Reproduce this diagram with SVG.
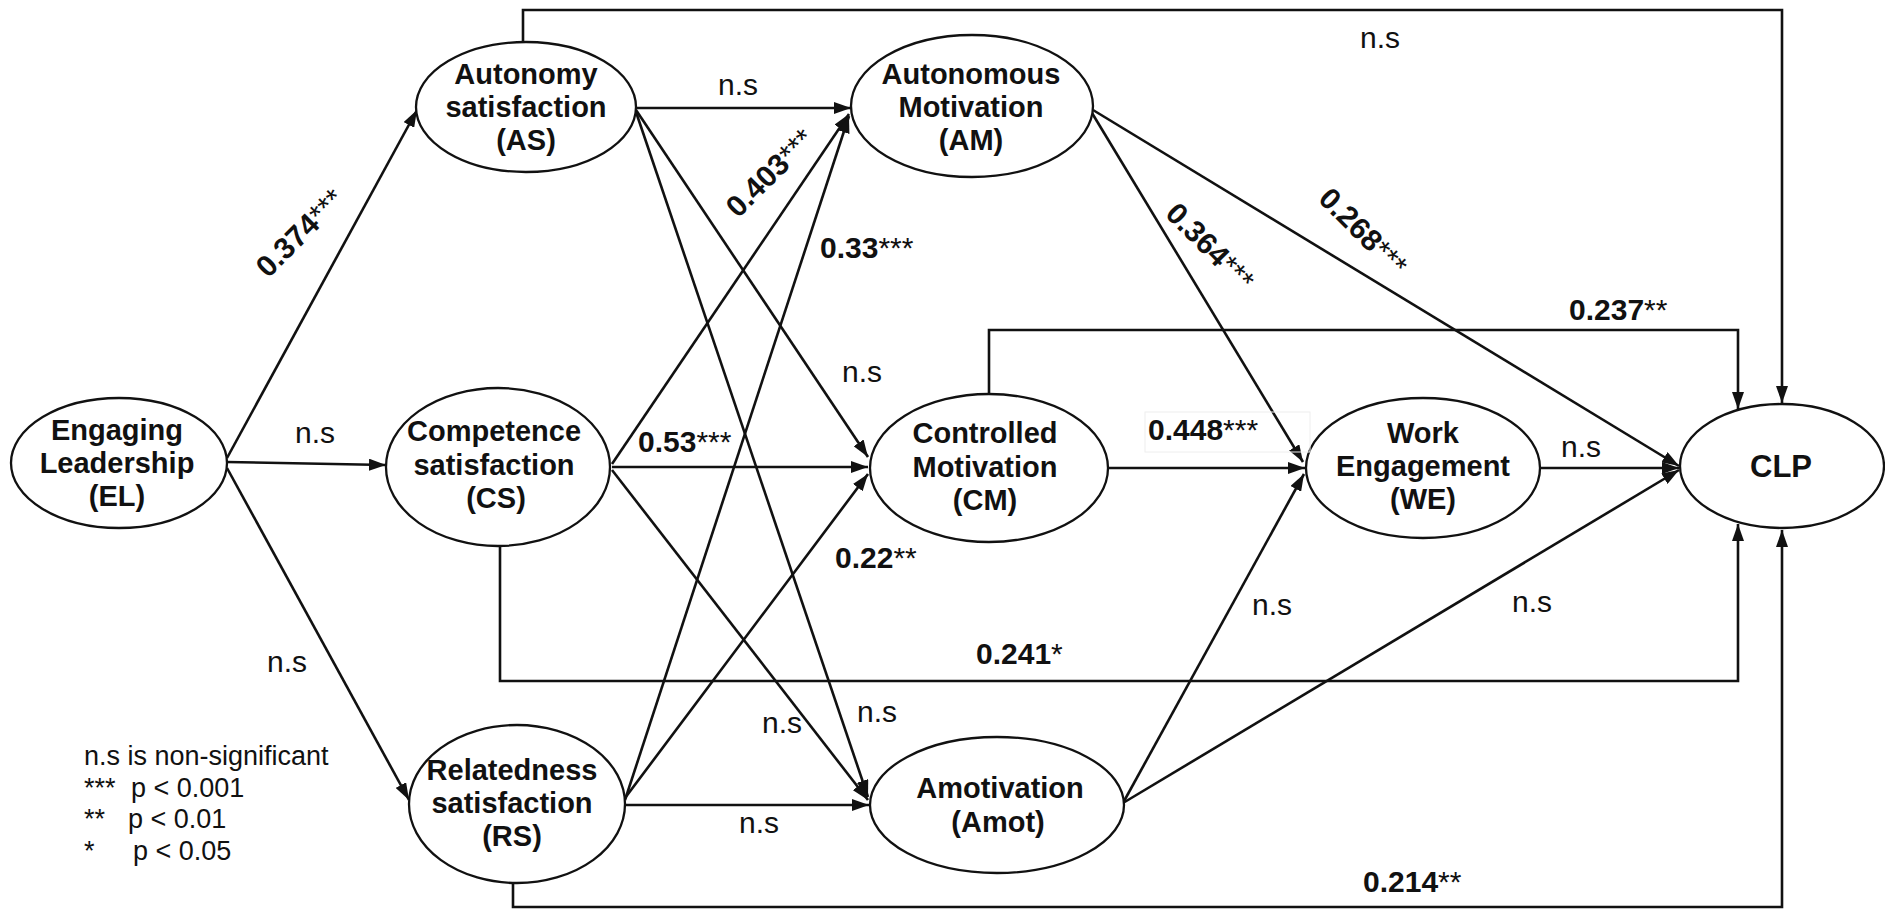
<svg xmlns="http://www.w3.org/2000/svg" width="1885" height="909" viewBox="0 0 1885 909">
  <style>
    .node { fill: #ffffff; stroke: #111111; stroke-width: 2.3; }
    .nt { font-family: "Liberation Sans", Arial, sans-serif; font-weight: bold; font-size: 29px; fill: #111111; text-anchor: middle; }
    .edge { fill: none; stroke: #111111; stroke-width: 2.6; marker-end: url(#arrow); }
    .wire { fill: none; stroke: #111111; stroke-width: 2.6; }
    .ns { font-family: "Liberation Sans", Arial, sans-serif; font-size: 30px; fill: #111111; text-anchor: middle; }
    .val { font-family: "Liberation Sans", Arial, sans-serif; font-size: 30px; font-weight: bold; fill: #111111; }
    .star { font-weight: normal; }
    .legend { font-family: "Liberation Sans", Arial, sans-serif; font-size: 27px; fill: #111111; }
  </style>
  <defs>
    <marker id="arrow" markerUnits="userSpaceOnUse" markerWidth="18" markerHeight="12" refX="17" refY="6" orient="auto">
      <path d="M0,0 L17,6 L0,12 z" fill="#111111"/>
    </marker>
  </defs>

  <rect x="0" y="0" width="1885" height="909" fill="#ffffff"/>

  <!-- paths between constructs -->
  <g id="connectors">
    <path class="edge" d="M523,42 V10 H1782 V403"/>
    <path class="edge" d="M636,108 H851"/>
    <path class="edge" d="M636,110 L868,457"/>
    <path class="edge" d="M636,112 L868,797"/>
    <path class="edge" d="M612,464 L849,114"/>
    <path class="edge" d="M625,800 L849,116"/>
    <path class="edge" d="M612,467 H868"/>
    <path class="edge" d="M612,470 L868,800"/>
    <path class="edge" d="M625,798 L868,474"/>
    <path class="edge" d="M625,805 H869"/>
    <path class="edge" d="M227,458 L417,110"/>
    <path class="edge" d="M227,462 L386,465"/>
    <path class="edge" d="M227,468 L409,800"/>
    <path class="edge" d="M500,546 V681 H1738 V524"/>
    <path class="edge" d="M513,883 V907 H1782 V530"/>
    <path class="edge" d="M989,394 V330 H1738 V409"/>
    <path class="edge" d="M1108,468 H1305"/>
    <path class="edge" d="M1092,113 L1303,462"/>
    <path class="edge" d="M1093,110 L1679,466"/>
    <path class="edge" d="M1540,468 H1679"/>
    <path class="edge" d="M1123,803 L1304,474"/>
    <path class="edge" d="M1123,803 L1679,470"/>
  </g>

  <!-- constructs -->
  <g id="EL">
    <ellipse class="node" cx="119" cy="463" rx="108" ry="65"/>
    <text class="nt" x="117" y="440">Engaging</text>
    <text class="nt" x="117" y="473">Leadership</text>
    <text class="nt" x="117" y="506">(EL)</text>
  </g>
  <g id="AS">
    <ellipse class="node" cx="526" cy="107" rx="110" ry="65"/>
    <text class="nt" x="526" y="84">Autonomy</text>
    <text class="nt" x="526" y="117">satisfaction</text>
    <text class="nt" x="526" y="150">(AS)</text>
  </g>
  <g id="CS">
    <ellipse class="node" cx="498" cy="467" rx="112" ry="79"/>
    <text class="nt" x="494" y="441">Competence</text>
    <text class="nt" x="494" y="475">satisfaction</text>
    <text class="nt" x="496" y="508">(CS)</text>
  </g>
  <g id="RS">
    <ellipse class="node" cx="517" cy="804" rx="108" ry="79"/>
    <text class="nt" x="512" y="780">Relatedness</text>
    <text class="nt" x="512" y="813">satisfaction</text>
    <text class="nt" x="512" y="846">(RS)</text>
  </g>
  <g id="AM">
    <ellipse class="node" cx="972" cy="106" rx="121" ry="71"/>
    <text class="nt" x="971" y="84">Autonomous</text>
    <text class="nt" x="971" y="117">Motivation</text>
    <text class="nt" x="971" y="150">(AM)</text>
  </g>
  <g id="CM">
    <ellipse class="node" cx="989" cy="468" rx="119" ry="74"/>
    <text class="nt" x="985" y="443">Controlled</text>
    <text class="nt" x="985" y="477">Motivation</text>
    <text class="nt" x="985" y="510">(CM)</text>
  </g>
  <g id="Amot">
    <ellipse class="node" cx="997" cy="805" rx="127" ry="68"/>
    <text class="nt" x="1000" y="798">Amotivation</text>
    <text class="nt" x="998" y="832">(Amot)</text>
  </g>
  <g id="WE">
    <ellipse class="node" cx="1423" cy="468" rx="117" ry="70"/>
    <text class="nt" x="1423" y="443">Work</text>
    <text class="nt" x="1423" y="476">Engagement</text>
    <text class="nt" x="1423" y="509">(WE)</text>
  </g>
  <g id="CLP">
    <ellipse class="node" cx="1782" cy="466" rx="102" ry="62"/>
    <text class="nt" x="1781" y="477" style="font-size:31px">CLP</text>
  </g>

  <!-- path coefficients -->
  <g id="labels">
    <text class="ns" x="1380" y="48">n.s</text>
    <text class="ns" x="738" y="95">n.s</text>
    <text class="val" x="770" y="183" text-anchor="middle" transform="rotate(-45 770 173)">0.403<tspan class="star">***</tspan></text>
    <text class="val" x="820" y="258">0.33<tspan class="star">***</tspan></text>
    <text class="ns" x="862" y="382">n.s</text>
    <text class="val" x="638" y="452">0.53<tspan class="star">***</tspan></text>
    <text class="val" x="835" y="568">0.22<tspan class="star">**</tspan></text>
    <text class="val" x="976" y="664">0.241<tspan class="star">*</tspan></text>
    <text class="ns" x="782" y="733">n.s</text>
    <text class="ns" x="877" y="722">n.s</text>
    <text class="ns" x="759" y="833">n.s</text>
    <text class="val" x="300" y="243" text-anchor="middle" transform="rotate(-45 300 233)">0.374<tspan class="star">***</tspan></text>
    <text class="ns" x="315" y="443">n.s</text>
    <text class="ns" x="287" y="672">n.s</text>
    <rect x="1145" y="412" width="165" height="40" fill="#ffffff" fill-opacity="0" stroke="#eeeeee" stroke-width="1"/>
    <text class="val" x="1148" y="440">0.448<tspan class="star">***</tspan></text>
    <text class="val" x="1210" y="257" text-anchor="middle" transform="rotate(45 1210 247)">0.364<tspan class="star">***</tspan></text>
    <text class="val" x="1363" y="242" text-anchor="middle" transform="rotate(45 1363 232)">0.268<tspan class="star">***</tspan></text>
    <text class="val" x="1569" y="320">0.237<tspan class="star">**</tspan></text>
    <text class="ns" x="1581" y="457">n.s</text>
    <text class="ns" x="1272" y="615">n.s</text>
    <text class="ns" x="1532" y="612">n.s</text>
    <text class="val" x="1363" y="892">0.214<tspan class="star">**</tspan></text>
  </g>

  <!-- significance key -->
  <g id="legend">
    <text class="legend" x="84" y="765">n.s is non-significant</text>
    <text class="legend" x="84" y="797">***</text>
    <text class="legend" x="131" y="797">p &lt; 0.001</text>
    <text class="legend" x="84" y="828">**</text>
    <text class="legend" x="128" y="828">p &lt; 0.01</text>
    <text class="legend" x="84" y="860">*</text>
    <text class="legend" x="133" y="860">p &lt; 0.05</text>
  </g>
</svg>
